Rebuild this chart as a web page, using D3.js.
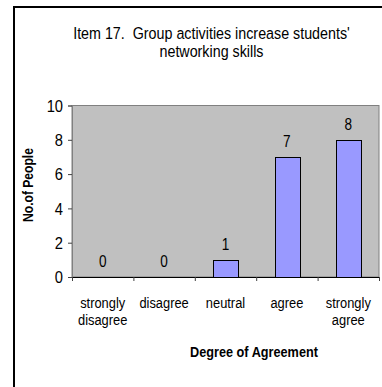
<!DOCTYPE html>
<html>
<head>
<meta charset="utf-8">
<script src="https://cdn.jsdelivr.net/npm/d3@7/dist/d3.min.js"></script>
<style>
html,body{margin:0;padding:0;background:#fff;}
svg{display:block;}
text{font-family:"Liberation Sans",Arial,sans-serif;fill:#000;}
</style>
</head>
<body>
<svg id="chart" width="382" height="387"></svg>
<script>
const categories = [["strongly","disagree"],["disagree"],["neutral"],["agree"],["strongly","agree"]];
const values = [0, 0, 1, 7, 8];
const yTicks = [0, 2, 4, 6, 8, 10];
const titleLines = ["Item 17.  Group activities increase students'", "networking skills"];
const xTitle = "Degree of Agreement";
const yTitle = "No.of People";

const svg = d3.select("#chart");
const W = 382, H = 387;
const plot = {left: 72, right: 379, top: 105.5, bottom: 277};

// condense a text horizontally about its anchor x (reference glyphs are narrow and tall)
function squeeze(sel, k){
  sel.each(function(){
    const ax = +(this.getAttribute("x") || 0);
    const prev = this.getAttribute("transform") || "";
    d3.select(this).attr("transform", `${prev} translate(${ax},0) scale(${k},1) translate(${-ax},0)`);
  });
}

// outer frame (cropped at right/bottom)
svg.append("line").attr("x1",14).attr("x2",14).attr("y1",6).attr("y2",H).attr("stroke","#000").attr("stroke-width",2);
svg.append("line").attr("x1",13).attr("x2",W).attr("y1",7).attr("y2",7).attr("stroke","#000").attr("stroke-width",2);

const x = d3.scaleBand().domain(d3.range(categories.length)).range([plot.left, plot.right]).padding(0);
const y = d3.scaleLinear().domain([0, 10]).range([plot.bottom, plot.top]);

// plot area
svg.append("rect").attr("x",plot.left).attr("y",plot.top)
  .attr("width",plot.right-plot.left).attr("height",plot.bottom-plot.top)
  .attr("fill","#c0c0c0").attr("stroke","#808080").attr("stroke-width",1);

// title
const titleX = 211.5;
const tt = svg.append("text").attr("x",titleX).attr("text-anchor","middle")
  .style("font-size","17px").style("white-space","pre");
titleLines.forEach((l,i)=>{
  tt.append("tspan").attr("x",titleX).attr("y",39+i*18.3).text(l);
});
{
  const first = tt.select("tspan").node();
  const k = 277 / first.getComputedTextLength();
  squeeze(tt, k);
}

// bars
const bw = x.bandwidth()*0.4;
svg.selectAll("rect.bar").data(values).enter().append("rect").attr("class","bar")
  .attr("x",(d,i)=>Math.round(x(i)+x.bandwidth()/2-bw/2)+0.5)
  .attr("y",d=>Math.round(y(d))+0.5)
  .attr("width",Math.round(bw))
  .attr("height",d=>Math.max(0, Math.round(y(0))-Math.round(y(d))))
  .attr("fill",d=>d>0?"#9999ff":"none")
  .attr("stroke",d=>d>0?"#000":"none").attr("stroke-width",1);

// value labels
const vl = svg.selectAll("text.val").data(values).enter().append("text").attr("class","val")
  .attr("x",(d,i)=>x(i)+x.bandwidth()/2)
  .attr("y",d=>y(d)-9.5)
  .attr("text-anchor","middle").style("font-size","16px")
  .text(d=>d);
squeeze(vl, 0.85);

// y axis
const yAxis = d3.axisLeft(y).tickValues(yTicks).tickSize(4).tickPadding(5);
const gy = svg.append("g").attr("transform",`translate(${plot.left},0)`).call(yAxis);
gy.select(".domain").attr("stroke","#808080");
gy.selectAll(".tick line").attr("stroke","#404040");
gy.selectAll(".tick text").style("font-size","16px").style("font-family","'Liberation Sans',Arial,sans-serif").attr("fill","#000").attr("dy","0.36em");
squeeze(gy.selectAll(".tick text"), 0.92);

// x axis
const xb = d3.scaleLinear().domain([0,categories.length]).range([plot.left, plot.right]);
const gx = svg.append("g").attr("transform",`translate(0,${plot.bottom})`).call(
  d3.axisBottom(xb).tickValues(d3.range(categories.length+1)).tickSize(4).tickFormat(""));
gx.select(".domain").attr("stroke","#000");
gx.selectAll(".tick line").attr("stroke","#404040");

// category labels
categories.forEach((lines,i)=>{
  const cx = x(i)+x.bandwidth()/2;
  const t = svg.append("text").attr("x",cx).attr("text-anchor","middle").style("font-size","14px");
  lines.forEach((l,j)=>{
    t.append("tspan").attr("x",cx).attr("y",308+j*17).text(l);
  });
  squeeze(t, 0.92);
});

// axis titles
const xt = svg.append("text").attr("x",254).attr("y",357).attr("text-anchor","middle")
  .style("font-size","14px").style("font-weight","bold").text(xTitle);
squeeze(xt, 128 / xt.node().getComputedTextLength());
const ytg = svg.append("g").attr("transform","translate(33,185) rotate(-90)");
const yt = ytg.append("text").attr("x",0).attr("y",0).attr("text-anchor","middle")
  .style("font-size","14px").style("font-weight","bold").text(yTitle);
squeeze(yt, 74 / yt.node().getComputedTextLength());
</script>
</body>
</html>
